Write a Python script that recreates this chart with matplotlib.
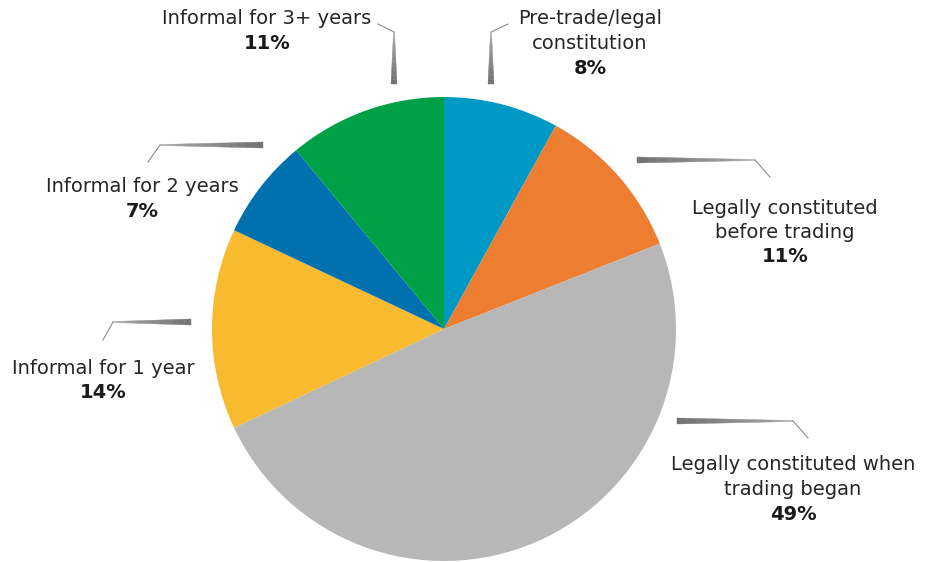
import numpy as np
import matplotlib
matplotlib.use("Agg")
import matplotlib.pyplot as plt
from matplotlib.patches import Polygon

# slices, clockwise from 12 o'clock
labels = [
    "Pre-trade/legal\nconstitution",
    "Legally constituted\nbefore trading",
    "Legally constituted when\ntrading began",
    "Informal for 1 year",
    "Informal for 2 years",
    "Informal for 3+ years",
]
shares = [8, 11, 49, 14, 7, 11]
colors = ["#0099c6", "#ed7d31", "#b7b7b7", "#f8bb30", "#0070ae", "#00a047"]

# label placement (pixel coords, y down): text centre x, first line y
label_pos = [(590, 19), (785, 208), (793, 465), (103, 368), (142, 187), (267, 19)]
# leader lines: thick end, bend, thin end
leaders = [
    [(491, 84), (491, 32), (508, 24)],
    [(637, 160), (755, 160), (770, 177)],
    [(677, 421), (793, 421), (808, 438)],
    [(191, 322), (113, 322), (103, 340)],
    [(263, 145), (160, 145), (148, 162)],
    [(394, 84), (394, 32), (378, 24)],
]

W, H = 925, 562
fig = plt.figure(figsize=(W / 100, H / 100), dpi=100)
ax = fig.add_axes([0, 0, 1, 1])

# with y inverted, startangle=-90 is the top and counterclock looks clockwise
ax.pie(shares, colors=colors, startangle=-90, counterclock=True,
       center=(444, 329), radius=232, frame=True,
       wedgeprops=dict(linewidth=0))
ax.set_xlim(0, W)
ax.set_ylim(H, 0)  # pixel-like coords, y down
ax.set_aspect("equal")
ax.axis("off")


def taper(p0, p1, w0=6.0, w1=1.0, n=12):
    # tapered segment drawn as small polygons with a grey gradient
    p0 = np.array(p0, float)
    p1 = np.array(p1, float)
    d = p1 - p0
    nrm = np.array([-d[1], d[0]]) / np.hypot(*d)
    for i in range(n):
        a, b = i / n, (i + 1) / n
        qa, qb = p0 + d * a, p0 + d * b
        wa = w0 + (w1 - w0) * a
        wb = w0 + (w1 - w0) * b
        poly = [qa + nrm * wa / 2, qb + nrm * wb / 2,
                qb - nrm * wb / 2, qa - nrm * wa / 2]
        g = 0.45 + 0.22 * a
        ax.add_patch(Polygon(poly, closed=True, color=(g, g, g + 0.01),
                             linewidth=0.3))


for pts in leaders:
    taper(pts[0], pts[1])
    ax.plot([pts[1][0], pts[2][0]], [pts[1][1], pts[2][1]],
            color="#8a8a8a", lw=0.8)

font = "DejaVu Sans"
for lab, val, (x, y) in zip(labels, shares, label_pos):
    lines = lab.split("\n")
    for k, ln in enumerate(lines):
        ax.text(x, y + 24.5 * k, ln, ha="center", va="center",
                fontsize=14, color="#262626", family=font)
    ax.text(x, y + 24.5 * len(lines), f"{val}%", ha="center", va="center",
            fontsize=14, fontweight="bold", color="#1a1a1a", family=font)

fig.savefig("out.png", dpi=100)
